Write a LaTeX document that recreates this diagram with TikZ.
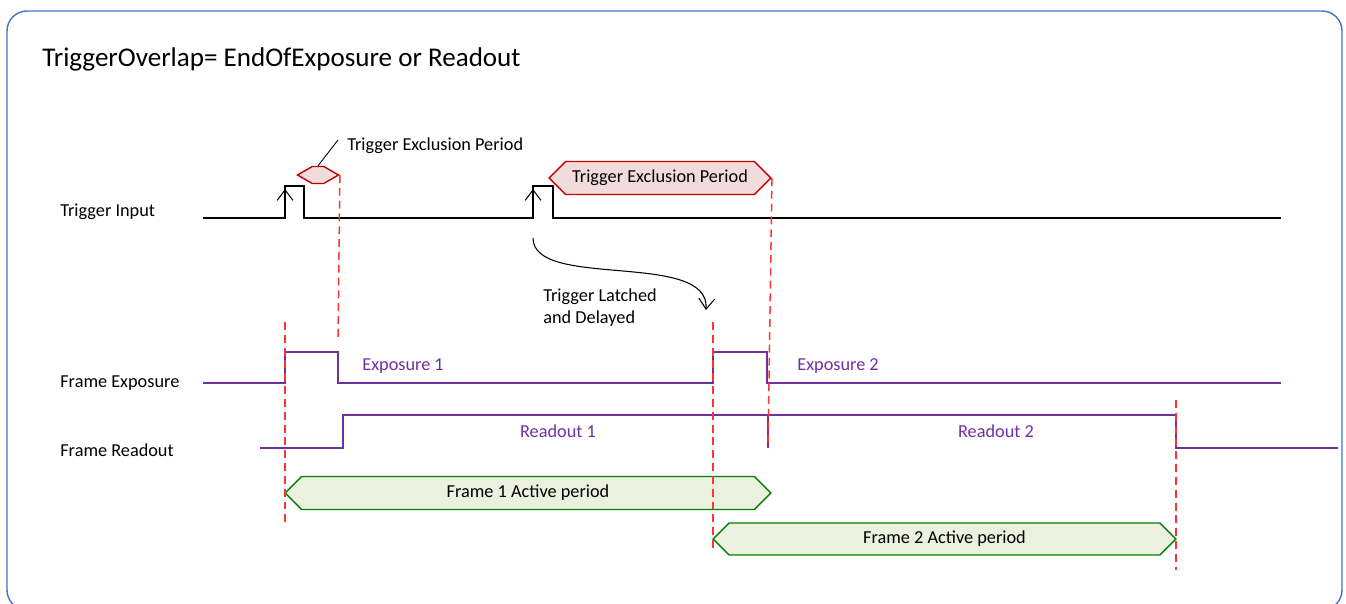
\documentclass[tikz,border=0pt]{standalone}
\usepackage{fontspec}
\setmainfont{Carlito}
\usetikzlibrary{shapes.symbols,arrows.meta,positioning}
\definecolor{framebl}{HTML}{4472C4}
\definecolor{sigpurple}{HTML}{7030A0}
\definecolor{exclred}{HTML}{C00000}
\definecolor{exclfill}{HTML}{F2DCDB}
\definecolor{actgreen}{HTML}{008000}
\definecolor{actfill}{HTML}{EBF1DE}
\definecolor{guidered}{HTML}{FF3333}

\begin{document}
\begin{tikzpicture}[x=0.02cm, y=-0.02cm,
  lbl/.style={font=\fontsize{10.4}{12.5}\selectfont, anchor=west, inner sep=0pt},
  trig/.style={black, line width=1.1pt},
  sig/.style={sigpurple, line width=1.4pt},
  guide/.style={guidered, line width=0.85pt, dash pattern=on 4.5pt off 2.8pt},
  hexbox/.style={signal, signal to=west and east, draw=#1, line width=0.8pt, inner sep=0pt, font=\fontsize{10.4}{12}\selectfont},
  edge/.style={-{Straight Barb[length=6pt,width=9pt]}, black, line width=0.6pt}
]
  \useasboundingbox (0,0) rectangle (1346,604);
  \begin{scope}
    \clip (0,0) rectangle (1346,604);
    \draw[framebl, line width=0.8pt, rounded corners=0.4cm] (7,11) rectangle (1342,610);
  \end{scope}

  % titles and row labels
  \node[lbl, font=\fontsize{15.4}{18}\selectfont] (title) at (42,59) {TriggerOverlap= EndOfExposure or Readout};
  \node[lbl] (trigin) at (60,212) {Trigger Input};
  \node[lbl] (frexp) at (60,383) {Frame Exposure};
  \node[lbl] (frread) at (60,450) {Frame Readout};

  % waveforms
  \draw[trig] (203,218) -- (285,218) -- (285,186) -- (304,186) -- (304,218) -- (533,218) -- (533,186) -- (553,186) -- (553,218) -- (1281,218);
  \draw[edge] (285,218) -- (285,189);
  \draw[edge] (533,218) -- (533,189);
  \draw[sig] (203,383) -- (285,383) -- (285,352) -- (338,352) -- (338,383) -- (713,383) -- (713,352) -- (767,352) -- (767,383) -- (1281,383);
  \draw[sig] (260,448) -- (343,448) -- (343,415) -- (1176,415) -- (1176,448) -- (1338,448);
  \draw[sig] (768,415) -- (768,448);

  \node[lbl, sigpurple] (exp1) at (362,366) {Exposure 1};
  \node[lbl, sigpurple] (exp2) at (797,366) {Exposure 2};
  \node[lbl, anchor=center, sigpurple] (rd1) at (558,431) {Readout 1};
  \node[lbl, anchor=center, sigpurple] (rd2) at (996,431) {Readout 2};

  % exclusion and active periods
  \node[hexbox=exclred, fill=exclfill, minimum width=0.82cm, minimum height=0.34cm, signal pointer angle=60] (excla) at (318,175) {};
  \node[lbl] (excltxt) at (347,146) {Trigger Exclusion Period};
  \coordinate (leadend) at (338,140);
  \draw[black, line width=0.5pt] (excla.north) -- (leadend);
  \node[hexbox=exclred, fill=exclfill, minimum width=4.44cm, minimum height=0.66cm] (exclb) at (660,178) {Trigger Exclusion Period};
  \node[hexbox=actgreen, fill=actfill, minimum width=9.72cm, minimum height=0.66cm] (act1) at (528,493) {Frame 1 Active period};
  \node[hexbox=actgreen, fill=actfill, minimum width=9.26cm, minimum height=0.64cm] (act2) at (944.5,539) {Frame 2 Active period};

  % guides
  \coordinate (excla-end) at (338,340);
  \coordinate (exclb-end) at (768,448);
  \draw[guide] (excla.east) -- (excla-end);
  \draw[guide] (exclb.east) -- (exclb-end);
  \foreach \x/\ya/\yb in {285/322/525, 713/322/550, 1176/400/570}
    \draw[guide] (\x,\ya) -- (\x,\yb);

  % latched trigger
  \coordinate (latchsrc) at (533,238);
  \coordinate (latchdst) at (706,310);
  \draw[edge] (latchsrc) .. controls (533,290) and (710,250) .. (latchdst);
  \node[lbl, align=left] (latchtxt) at (543,308) {Trigger Latched\\and Delayed};
\end{tikzpicture}
\end{document}
